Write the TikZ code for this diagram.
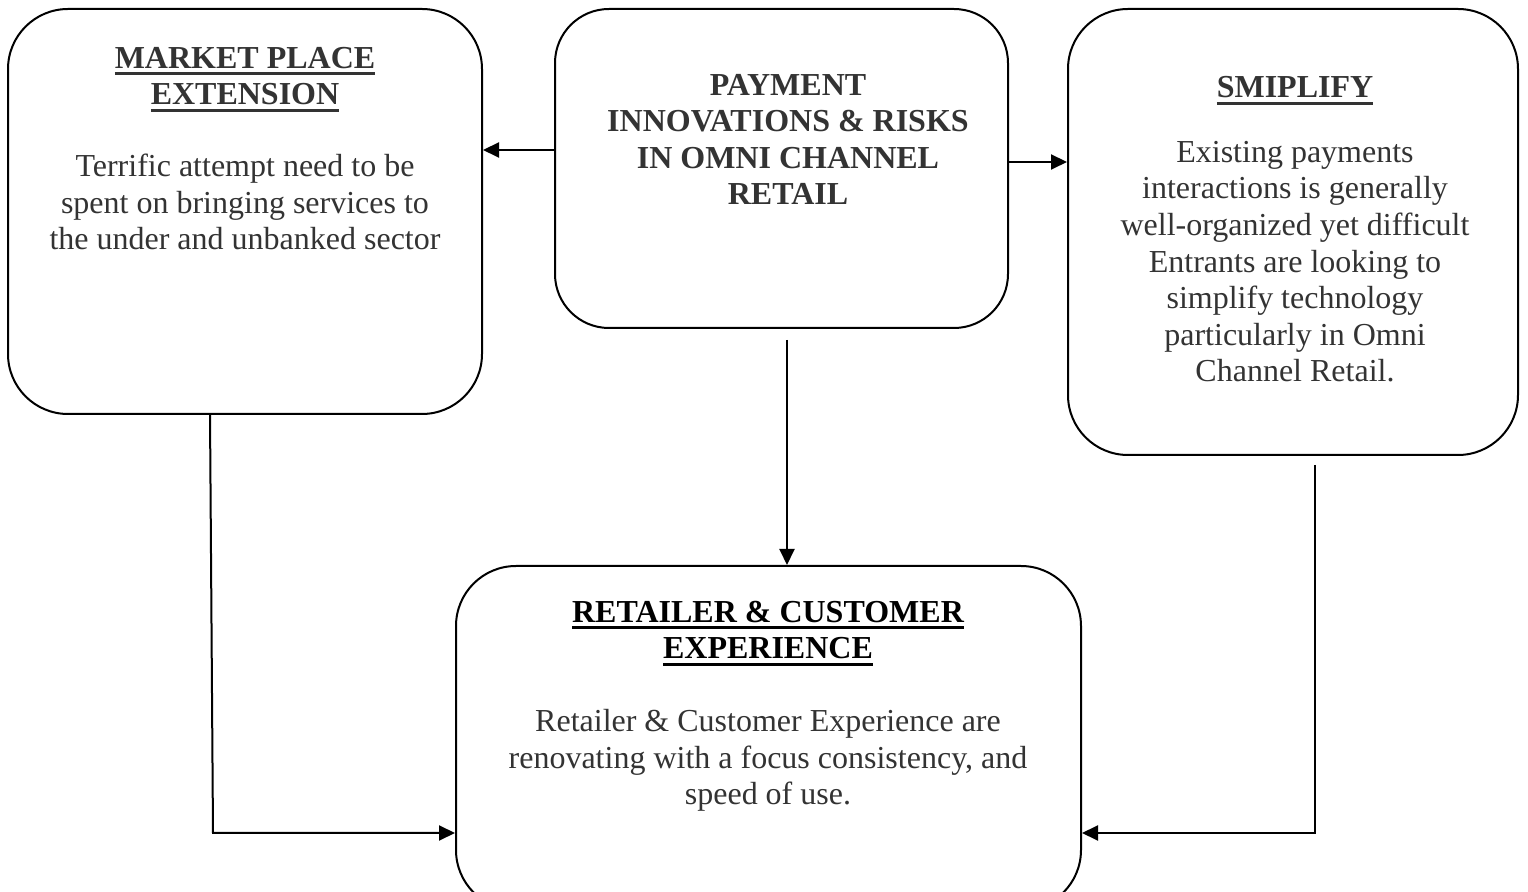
\documentclass[tikz,border=0pt]{standalone}
\usepackage{fontspec}
\setmainfont{Liberation Serif}
\usetikzlibrary{arrows.meta}
\definecolor{txt}{HTML}{333333}
\newcommand\ulh[1]{\setbox0\hbox{#1}\leavevmode\rlap{\rule[-3.5pt]{\wd0}{1.5pt}}\box0}
\tikzset{
  box/.style={draw=black, line width=1pt, fill=white, rounded corners=30pt, inner sep=0pt},
  body/.style={text=txt, align=center, inner sep=0pt, anchor=base, font=\fontsize{16pt}{18.3pt}\selectfont},
  head/.style={body, font=\fontsize{16pt}{18.3pt}\selectfont\bfseries},
  arr/.style={line width=1pt, -{Triangle[length=8pt,width=7.5pt]}},
}
\begin{document}
\begin{tikzpicture}[x=0.5pt,y=-0.5pt]
\useasboundingbox (0,0) rectangle (1528,892);
\clip (0,0) rectangle (1528,892);
% boxes
\node[box, minimum width=237pt, minimum height=202.5pt] (A) at (245,211.5) {};
\node[box, rounded corners=27pt, minimum width=226.5pt, minimum height=159.5pt] (B) at (781.5,168.5) {};
\node[box, minimum width=225pt, minimum height=223pt] (C) at (1293,232) {};
\node[box, minimum width=312.5pt, minimum height=172pt] (D) at (768.5,738) {};
% texts (anchor = baseline of the last line)
\node[head] (Ah) at (245,105) {\ulh{MARKET PLACE}\\\ulh{EXTENSION}};
\node[body] (Ab) at (245,250) {Terrific attempt need to be\\spent on bringing services to\\the under and unbanked sector};
\node[head] (Bh) at (788,205) {PAYMENT\\INNOVATIONS \& RISKS\\IN OMNI CHANNEL\\RETAIL};
\node[head] (Ch) at (1295,98) {\ulh{SMIPLIFY}};
\node[body] (Cb) at (1295,382) {Existing payments\\interactions is generally\\well-organized yet difficult\\Entrants are looking to\\simplify technology\\particularly in Omni\\Channel Retail.};
\node[head, text=black] (Dh) at (768,659) {\ulh{RETAILER \& CUSTOMER}\\\ulh{EXPERIENCE}};
\node[body] (Db) at (768,805) {Retailer \& Customer Experience are\\renovating with a focus consistency, and\\speed of use.};
% connectors
\coordinate (c1) at (B.west |- 0,150);
\coordinate (c2) at (B.east |- 0,162);
\coordinate (c3) at (787,340);
\coordinate (l1) at (210,414);
\coordinate (l2) at (213,833);
\coordinate (r1) at (1315,465);
\coordinate (r2) at (1315,833);
\draw[arr] (c1) -- (A.east |- c1);
\draw[arr] (c2) -- (C.west |- c2);
\draw[arr] (c3) -- (c3 |- D.north);
\draw[arr] (l1) -- (l2) -- (D.west |- l2);
\draw[arr] (r1) -- (r2) -- (D.east |- r2);
\end{tikzpicture}
\end{document}
